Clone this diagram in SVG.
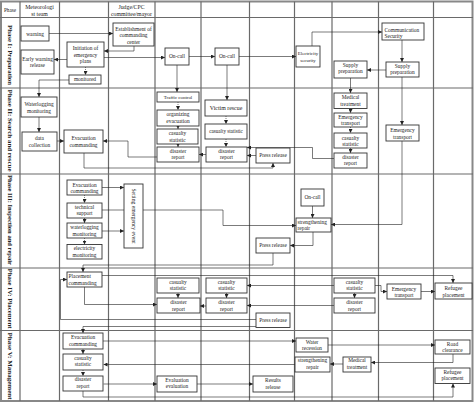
<svg xmlns="http://www.w3.org/2000/svg" width="474" height="403" viewBox="0 0 474 403">
<defs>
<marker id="a" viewBox="0 0 6 6" refX="6" refY="3" markerWidth="4" markerHeight="4" markerUnits="userSpaceOnUse" orient="auto"><path d="M0,0 L6,3 L0,6 z" fill="#222"/></marker>
<style>
.grid{stroke:#6a6a6a;stroke-width:1.2;fill:none}
.b{fill:#fff;stroke:#333;stroke-width:0.9}
.c{fill:none;stroke:#222;stroke-width:0.6;marker-end:url(#a)}
.d{fill:none;stroke:#222;stroke-width:0.6;stroke-dasharray:1,1;marker-end:url(#a)}
text{font-family:"Liberation Serif","Times New Roman",serif;fill:#222}
.t{font-size:5.4px;text-anchor:middle}
.s{font-size:4.9px;text-anchor:middle}
.l{font-size:5.4px;text-anchor:start}
.h{font-size:5.8px;text-anchor:middle}
.p{font-size:6.6px;font-weight:bold;text-anchor:middle}
</style>
</defs>
<rect width="474" height="403" fill="#fff"/>
<g id="lanes">
<rect x="1" y="1.5" width="471.5" height="399.5" fill="none" stroke="#888" stroke-width="2"/>
<path class="grid" d="M20,1.5V401 M59.5,1.5V401 M108.5,1.5V401 M155,1.5V401 M201,1.5V401 M249.5,1.5V401 M294.5,1.5V401 M332,1.5V401 M378.5,1.5V401 M433.5,1.5V401"/>
<path class="grid" d="M0,17.5H473 M0,88H473 M0,174H473 M0,268H473 M0,330.5H473"/>
<text class="h" x="10" y="11.5" style="font-size:5.2px">Phase</text>
<text class="h" x="39.5" y="8.7">Meteorologi</text>
<text class="h" x="39.5" y="16">st team</text>
<text class="h" x="131.5" y="9">Judge/CPC</text>
<text class="h" x="131.5" y="16.2">committee/mayor</text>
<text class="p" transform="translate(8,55) rotate(90)" textLength="60" lengthAdjust="spacingAndGlyphs">Phase I: Preparation</text>
<text class="p" transform="translate(8,130.5) rotate(90)" textLength="82" lengthAdjust="spacingAndGlyphs">Phase II: Search and rescue</text>
<text class="p" transform="translate(8,220) rotate(90)" textLength="90" lengthAdjust="spacingAndGlyphs">Phase III: Inspection and repair</text>
<text class="p" transform="translate(8,298.5) rotate(90)" textLength="60" lengthAdjust="spacingAndGlyphs">Phase IV: Placement</text>
<text class="p" transform="translate(8,366) rotate(90)" textLength="67" lengthAdjust="spacingAndGlyphs">Phase V: Management</text>
</g>
<g id="connectors">
<path class="c" d="M49,33.5H113"/>
<path class="c" d="M134,46V51H104"/>
<path class="c" d="M67,59.5H54"/>
<path class="d" d="M85.5,67V75"/>
<path class="c" d="M69,80H39V97"/>
<path class="c" d="M104,57.5H165"/>
<path class="c" d="M189,56.5H215"/>
<path class="c" d="M239,56.5H296"/>
<path class="c" d="M312,46V32H382"/>
<path class="c" d="M402,40V62"/>
<path class="c" d="M386,70H367"/>
<path class="c" d="M177,65V92"/>
<path class="c" d="M227,65V100"/>
<path class="c" d="M350.5,78V93"/>
<path class="c" d="M402,77V125"/>
<path class="c" d="M39,117V132"/>
<path class="c" d="M57,141H64"/>
<path class="c" d="M157,157H128V141H103"/>
<path class="c" d="M84,153V168H273V163"/>
<path class="d" d="M178,102V110"/>
<path class="d" d="M178,126V129"/>
<path class="d" d="M178,144V147"/>
<path class="d" d="M226,116V124"/>
<path class="d" d="M226,139V147"/>
<path class="c" d="M206,154.5H199"/>
<path class="c" d="M256,155.5H247"/>
<path class="c" d="M334,158.5H312.5V147.5H247"/>
<path class="d" d="M350.5,108.5V113"/>
<path class="d" d="M350.5,127V133"/>
<path class="d" d="M350.5,148V153"/>
<path class="c" d="M402,141V224.5H331"/>
<path class="c" d="M102,187.5H124"/>
<path class="d" d="M84.5,195V203"/>
<path class="d" d="M84.5,218V223"/>
<path class="d" d="M84.5,238V244.5"/>
<path class="c" d="M102,210H223V225.5H296"/>
<path class="c" d="M102,231H124"/>
<path class="c" d="M312.5,206V218"/>
<path class="c" d="M313,232V245.5H290"/>
<path class="c" d="M273,253V265H83V272"/>
<path class="c" d="M102,275.5H453V283"/>
<path class="c" d="M84.5,287V304.5H157"/>
<path class="c" d="M256,319.5H60.5V279.5H67"/>
<path class="c" d="M256,326.5H83V333"/>
<path class="d" d="M178,293V298"/>
<path class="d" d="M226.5,293V298"/>
<path class="d" d="M354.5,293V298"/>
<path class="c" d="M206,306H200"/>
<path class="c" d="M334,285.5H247"/>
<path class="c" d="M334,305.5H247"/>
<path class="c" d="M375,285.5H381V291.5H387"/>
<path class="c" d="M421,291.5H435"/>
<path class="c" d="M103,341H296"/>
<path class="c" d="M328,345H435"/>
<path class="c" d="M453,354V362.5H371"/>
<path class="c" d="M343,364H330"/>
<path class="c" d="M295,364.5H103.5"/>
<path class="d" d="M83,349V354"/>
<path class="d" d="M83,370V376"/>
<path class="c" d="M103.5,384H157"/>
<path class="c" d="M197,384H253"/>
<path class="c" d="M83,391V397H453V383.5"/>
</g>
<g id="n_warning"><rect class="b" x="21" y="26" width="28" height="15"/><text class="t" x="35" y="35.5">warning</text></g>
<g id="n_early"><rect class="b" x="21" y="50" width="33" height="24"/><text class="t" x="37.5" y="61">Early warning</text><text class="t" x="37.5" y="67.2">release</text></g>
<g id="n_init"><rect class="b" x="67" y="42" width="37" height="25"/><text class="t" x="85.5" y="50">Initiation of</text><text class="t" x="85.5" y="56.6">emergency</text><text class="t" x="85.5" y="63.2">plans</text></g>
<g id="n_monitored"><rect class="b" x="69" y="75" width="32" height="9"/><text class="t" x="85" y="81.3">monitored</text></g>
<g id="n_establish"><rect class="b" x="113" y="23" width="41" height="23"/><text class="t" x="133.5" y="30.8">Establishment of</text><text class="t" x="133.5" y="37.4">commanding</text><text class="t" x="133.5" y="44">center</text></g>
<g id="n_oncall1"><rect class="b" x="165" y="48" width="24" height="17"/><text class="t" x="177" y="58.3">On-call</text></g>
<g id="n_oncall2"><rect class="b" x="215" y="48" width="24" height="17"/><text class="t" x="227" y="58.3">On-call</text></g>
<g id="n_elec"><rect class="b" x="296" y="46" width="24" height="21"/><text class="s" x="308" y="55">Electricity</text><text class="s" x="308" y="61.5">security</text></g>
<g id="n_comm"><rect class="b" x="382" y="23" width="42" height="17"/><text class="l" x="384.5" y="31.8">Communication</text><text class="l" x="384.5" y="38">Security</text></g>
<g id="n_supplyL"><rect class="b" x="334" y="61" width="33" height="17"/><text class="t" x="350.5" y="67.2">Supply</text><text class="t" x="350.5" y="73.4">preparation</text></g>
<g id="n_supplyR"><rect class="b" x="386" y="62" width="33" height="15"/><text class="t" x="402.5" y="67.8">Supply</text><text class="t" x="402.5" y="73.8">preparation</text></g>
<g id="n_waterlog"><rect class="b" x="21" y="97" width="36" height="20"/><text class="t" x="39" y="106">Waterlogging</text><text class="t" x="39" y="112.5">monitoring</text></g>
<g id="n_datacol"><rect class="b" x="22" y="132" width="35" height="19"/><text class="t" x="39.5" y="140">data</text><text class="t" x="39.5" y="146.6">collection</text></g>
<g id="n_evac2"><rect class="b" x="64" y="130" width="39" height="23"/><text class="t" x="83.5" y="140">Evacuation</text><text class="t" x="83.5" y="146.6">commanding</text></g>
<g id="n_traffic"><rect class="b" x="157" y="92" width="42" height="10"/><text class="s" x="178" y="98.8">Traffic control</text></g>
<g id="n_organ"><rect class="b" x="157" y="110" width="42" height="16"/><text class="t" x="178" y="116.3">organizing</text><text class="t" x="178" y="122.7">evacuation</text></g>
<g id="n_cas2a"><rect class="b" x="157" y="129" width="41" height="15"/><text class="t" x="177.5" y="135">casualty</text><text class="t" x="177.5" y="141.5">statistic</text></g>
<g id="n_dis2a"><rect class="b" x="157" y="147" width="42" height="15"/><text class="t" x="178" y="152.8">disaster</text><text class="t" x="178" y="159">report</text></g>
<g id="n_victim"><rect class="b" x="205" y="100" width="42" height="16"/><text class="t" x="226" y="110" style="font-size:5.9px">Victim rescue</text></g>
<g id="n_cas2b"><rect class="b" x="205" y="124" width="42" height="15"/><text class="t" x="226" y="133" style="font-size:5.1px">casualty statistic</text></g>
<g id="n_dis2b"><rect class="b" x="206" y="147" width="41" height="15"/><text class="t" x="226.5" y="152.8">disaster</text><text class="t" x="226.5" y="159">report</text></g>
<g id="n_press2"><rect class="b" x="256" y="148" width="34" height="15"/><text class="t" x="273" y="157.3">Press release</text></g>
<g id="n_med2"><rect class="b" x="334" y="93" width="33" height="15.5"/><text class="t" x="350.5" y="99.4">Medical</text><text class="t" x="350.5" y="105.7">treatment</text></g>
<g id="n_emt2"><rect class="b" x="334" y="113" width="33" height="14"/><text class="t" x="350.5" y="119">Emergency</text><text class="t" x="350.5" y="125.2">transport</text></g>
<g id="n_cas2c"><rect class="b" x="334" y="133" width="33" height="15"/><text class="t" x="350.5" y="139.8">casualty</text><text class="t" x="350.5" y="146">statistic</text></g>
<g id="n_dis2c"><rect class="b" x="334" y="153" width="33" height="15"/><text class="t" x="350.5" y="158.6">disaster</text><text class="t" x="350.5" y="164.8">report</text></g>
<g id="n_emt2r"><rect class="b" x="386" y="125" width="33" height="16"/><text class="t" x="402.5" y="131.6">Emergency</text><text class="t" x="402.5" y="138.6">transport</text></g>
<g id="n_evac3"><rect class="b" x="67" y="180" width="35" height="15"/><text class="t" x="84.5" y="186.5">Evacuation</text><text class="t" x="84.5" y="192.9">commanding</text></g>
<g id="n_tech"><rect class="b" x="67" y="203" width="35" height="15"/><text class="t" x="84.5" y="208.6">technical</text><text class="t" x="84.5" y="215">support</text></g>
<g id="n_wlm3"><rect class="b" x="67" y="223" width="35" height="15"/><text class="t" x="84.5" y="229">waterlogging</text><text class="t" x="84.5" y="235.5">monitoring</text></g>
<g id="n_elecm"><rect class="b" x="67" y="244.5" width="35" height="14.5"/><text class="t" x="84.5" y="250.2">electricity</text><text class="t" x="84.5" y="256.6">monitoring</text></g>
<g id="n_setting"><rect class="b" x="124" y="184" width="19" height="64"/><text class="t" transform="translate(131.8,216) rotate(90)" style="font-size:5.6px">Setting emergency event</text></g>
<g id="n_oncall3"><rect class="b" x="301" y="189" width="23" height="17"/><text class="t" x="312.5" y="199.3">On-call</text></g>
<g id="n_streng3"><rect class="b" x="296" y="218" width="35" height="14"/><text class="l" x="297.5" y="224.4">strengthening</text><text class="l" x="297.5" y="230.3">repair</text></g>
<g id="n_press3"><rect class="b" x="256" y="238" width="34" height="15"/><text class="t" x="273" y="247.3">Press release</text></g>
<g id="n_place"><rect class="b" x="67" y="272" width="35" height="15"/><text class="l" x="68.5" y="278">Placement</text><text class="l" x="68.5" y="284.5">commanding</text></g>
<g id="n_cas4a"><rect class="b" x="157" y="278" width="42" height="15"/><text class="t" x="178" y="283.6">casualty</text><text class="t" x="178" y="290">statistic</text></g>
<g id="n_dis4a"><rect class="b" x="157" y="298" width="43" height="15"/><text class="t" x="178.5" y="304">disaster</text><text class="t" x="178.5" y="310.5">report</text></g>
<g id="n_cas4b"><rect class="b" x="206" y="278" width="41" height="15"/><text class="t" x="226.5" y="283.6">casualty</text><text class="t" x="226.5" y="290">statistic</text></g>
<g id="n_dis4b"><rect class="b" x="206" y="298" width="41" height="15"/><text class="t" x="226.5" y="304">disaster</text><text class="t" x="226.5" y="310.5">report</text></g>
<g id="n_press4"><rect class="b" x="256" y="313" width="34" height="14.5"/><text class="t" x="273" y="322">Press release</text></g>
<g id="n_cas4c"><rect class="b" x="334" y="278" width="41" height="15"/><text class="t" x="354.5" y="283.6">casualty</text><text class="t" x="354.5" y="290">statistic</text></g>
<g id="n_dis4c"><rect class="b" x="334" y="298" width="41" height="15"/><text class="t" x="354.5" y="304">disaster</text><text class="t" x="354.5" y="310.5">report</text></g>
<g id="n_emt4"><rect class="b" x="387" y="284" width="34" height="15"/><text class="t" x="404" y="290.6">Emergency</text><text class="t" x="404" y="297">transport</text></g>
<g id="n_refugee4"><rect class="b" x="435" y="283" width="37" height="16"/><text class="t" x="453.5" y="290">Refugee</text><text class="t" x="453.5" y="296.5">placement</text></g>
<g id="n_evac5"><rect class="b" x="63" y="333" width="40" height="16"/><text class="t" x="83" y="339.3">Evacuation</text><text class="t" x="83" y="345.8">commanding</text></g>
<g id="n_cas5"><rect class="b" x="63" y="354" width="40" height="16"/><text class="t" x="83" y="360.2">casualty</text><text class="t" x="83" y="366.4">statistic</text></g>
<g id="n_dis5"><rect class="b" x="63" y="376" width="40" height="15"/><text class="t" x="83" y="381.4">disaster</text><text class="t" x="83" y="388.2">report</text></g>
<g id="n_evalu"><rect class="b" x="157" y="376" width="40" height="16"/><text class="t" x="177" y="381.8">Evaluation</text><text class="t" x="177" y="388.3">evaluation</text></g>
<g id="n_results"><rect class="b" x="253" y="376" width="40" height="16"/><text class="t" x="273" y="382.4">Results</text><text class="t" x="273" y="389">release</text></g>
<g id="n_water"><rect class="b" x="296" y="338" width="32" height="14"/><text class="t" x="312" y="343.5">Water</text><text class="t" x="312" y="350">recession</text></g>
<g id="n_streng5"><rect class="b" x="295" y="357" width="35" height="15"/><text class="t" x="312.5" y="362">strengthening</text><text class="t" x="312.5" y="368.6">repair</text></g>
<g id="n_med5"><rect class="b" x="343" y="357" width="28" height="15"/><text class="t" x="357" y="362.4">Medical</text><text class="t" x="357" y="369.2">treatment</text></g>
<g id="n_road"><rect class="b" x="435" y="340" width="35" height="14"/><text class="t" x="452.5" y="345.5">Road</text><text class="t" x="452.5" y="352">clearance</text></g>
<g id="n_refugee5"><rect class="b" x="435" y="368" width="35" height="15.5"/><text class="t" x="452.5" y="373.8">Refugee</text><text class="t" x="452.5" y="380.3">placement</text></g>
</svg>
